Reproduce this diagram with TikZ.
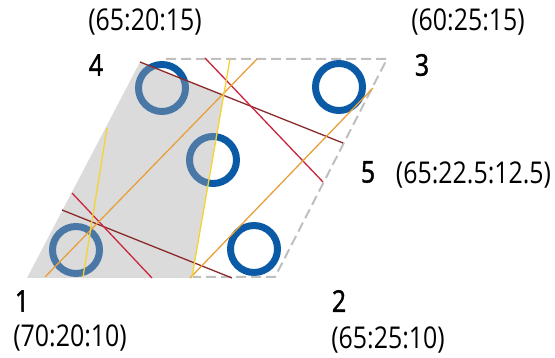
\documentclass[tikz,border=0pt]{standalone}
\usepackage{fontspec}
\setmainfont{Open Sans}
\newfontfamily\labfont[FakeStretch=0.83]{Open Sans}
\newfontfamily\numfont[FakeStretch=0.83,FakeBold=1.5]{Open Sans}
\definecolor{ringblue}{HTML}{0B5AA6}
\definecolor{lnmaroon}{HTML}{8B2A2A}
\definecolor{lnred}{HTML}{C8243C}
\definecolor{lnorange}{HTML}{E8A03A}
\definecolor{lnyellow}{HTML}{F6D330}
\definecolor{edgegray}{HTML}{BFBFBF}
\begin{document}
\begin{tikzpicture}[x=1pt,y=-1pt,
  ring/.style={circle,draw=ringblue,line width=7pt,minimum size=47pt,inner sep=0pt},
  shadearea/.style={fill=black!35,fill opacity=0.4},
  edge/.style={draw=edgegray,line width=2pt,dash pattern=on 10pt off 5pt},
  tieline/.style={line width=1.3pt},
  corner/.style={inner sep=0pt,font=\numfont\fontsize{30}{30}\selectfont},
  ratio/.style={inner sep=0pt,font=\labfont\fontsize{30}{30}\selectfont}]
\useasboundingbox (0,0) rectangle (555,358);

% composition points
\node[ring] (r4) at (162,88) {};
\node[ring] (rm) at (213,160) {};
\node[ring] (r1) at (76,250) {};
\node[ring] (r2) at (254,249) {};
\node[ring] (r3) at (339,87) {};

% shaded region of the composition field
\fill[shadearea] (27,278) -- (140,62) -- (223.6,95.5) -- (192,278) -- cycle;

% parallelogram outline
\coordinate (p1) at (166,59);
\coordinate (p3) at (387,59);
\coordinate (p2) at (275,277);
\coordinate (pb) at (193,277);
\draw[edge] (p1) -- (p3) -- (p2) -- (pb);

% tie lines
\coordinate (ma1) at (140,62);  \coordinate (ma2) at (343,143);
\coordinate (mb1) at (62,210);  \coordinate (mb2) at (232,278);
\coordinate (ra1) at (205,58);  \coordinate (ra2) at (323,182);
\coordinate (rb1) at (72,193);  \coordinate (rb2) at (152,278);
\coordinate (oa1) at (45,277);  \coordinate (oa2) at (257,59);
\coordinate (ob1) at (190,278); \coordinate (ob2) at (373,88);
\coordinate (ya1) at (107,128); \coordinate (ya2) at (83,277);
\coordinate (yb1) at (230,59);  \coordinate (yb2) at (192,277);
\draw[tieline,lnmaroon] (ma1) -- (ma2);
\draw[tieline,lnmaroon] (mb1) -- (mb2);
\draw[tieline,lnred] (ra1) -- (ra2);
\draw[tieline,lnred] (rb1) -- (rb2);
\draw[tieline,lnorange] (oa1) -- (oa2);
\draw[tieline,lnorange] (ob1) -- (ob2);
\draw[tieline,lnyellow] (ya1) -- (ya2);
\draw[tieline,lnyellow] (yb1) -- (yb2);

% labels
\node[corner] (n4) at (96,65) {4};
\node[ratio] (t4) at (145,21.5) {(65:20:15)};
\node[corner] (n3) at (422,65) {3};
\node[ratio] (t3) at (468,21.5) {(60:25:15)};
\node[corner] (n5) at (368,172) {5};
\node[ratio] (t5) at (473.5,175) {(65:22.5:12.5)};
\node[corner] (n2) at (339,301) {2};
\node[ratio] (t2) at (388,340) {(65:25:10)};
\node[corner] (n1) at (22,301) {1};
\node[ratio] (t1) at (70,337.5) {(70:20:10)};
\end{tikzpicture}
\end{document}
